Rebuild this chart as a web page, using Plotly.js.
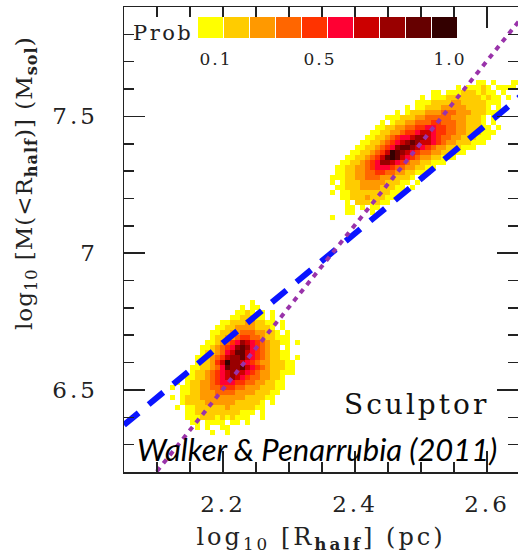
<!DOCTYPE html>
<html>
<head>
<meta charset="utf-8">
<script src="https://cdn.plot.ly/plotly-3.0.1.min.js"></script>
<style>
  html, body { margin: 0; padding: 0; background: #fff; overflow: hidden; }
  #chart { width: 518px; height: 555px; }
  /* wide-set serif lettering */
  .xtick text { letter-spacing: 3px; }
  .ytick text { letter-spacing: 3px; }
  .x2tick text { letter-spacing: 2px; }
  .g-xtitle text { letter-spacing: 3px; }
  .annotation[data-index="0"] text { letter-spacing: 2.5px; }
  .annotation[data-index="1"] text { letter-spacing: 1px; }
  .annotation[data-index="2"] text { letter-spacing: 3px; }
</style>
</head>
<body>
<div id="chart"></div>
<script>
// Probability levels of the 2D posterior histogram and their colours
const probLevels = [0.1, 0.2, 0.3, 0.4, 0.5, 0.6, 0.7, 0.8, 0.9, 1.0];
const probColors = ['#ffff00', '#ffcc00', '#ff9900', '#ff6600', '#ff3300',
                    '#ff0033', '#cc0000', '#990000', '#660000', '#330000'];
const probTickVals = [0.1, 0.5, 1.0];
const probTickText = ['0.1', '0.5', '1.0'];

// Histogram bins (log10 R_half, log10 M) : rows listed from top to bottom,
// each row = [first column, levels] with '1'..'9' = 0.1..0.9, 'X' = 1.0, '.' = empty
const sculptorMetalPoorRows = [
  [16, "1"],
  [14, "1.11"],
  [13, "1121.1.1"],
  [12, "1122211.1"],
  [10, "11222332211.1"],
  [9, "112233332221.1"],
  [8, "11223344433221.1"],
  [8, "1223345544322111"],
  [7, "11234568765432211.1"],
  [6, "1123456898654322.1"],
  [6, "122346799765432211"],
  [5, "1123457889765432211.1"],
  [5, "122357X8876543322211"],
  [4, "112234698897654322211"],
  [4, "122345678776543322111"],
  [3, "11223456787654433221"],
  [1, "1.12233456665544332211"],
  [0, "1.112233445554433322211"],
  [2, "11223334444333322211"],
  [0, "1.1222333333333222211"],
  [2, "12222333333222221.1"],
  [1, "1.1122222232222211"],
  [3, "11222222222111.1"],
  [3, "1112221212111..1"],
  [4, "11.1111.11.1"],
  [5, "1.1..11"],
  [8, "1..1"]
];
const sculptorMetalRichRows = [
  [29, "11.1...11"],
  [25, "1.11121.1111"],
  [20, "11.1112221211.1"],
  [18, "1.11122222221211.1"],
  [17, "11122223322222111"],
  [15, "1.112223333322221.1"],
  [13, "1.1222333444333222111"],
  [11, "11122233444443332221.1"],
  [10, "1.1223344455444332221.1"],
  [9, "11223344556655443322211.1"],
  [8, "1122334556776554433222111"],
  [7, "1122345667887654433222111"],
  [6, "1122345678987765433222111"],
  [5, "112234568998765433222111"],
  [4, "11223457X98765443322211"],
  [3, "112234579X976543322111"],
  [2, "112234568876543322111"],
  [1, "11223345666544332211"],
  [1, "1122334455443322111"],
  [0, "11122334443332221.1"],
  [0, "1.12223333322211.1"],
  [0, ".11222333322211.1"],
  [0, "1.1122222222111"],
  [2, "112223222111"],
  [3, "1.2221211"],
  [3, "11.1.11"],
  [0, "...11...1"],
  [0, "1..."]
];

// Reference scaling relations: log10 M = a + b log10 R
const dashedLineX = [2.05, 2.65];
const dashedLineY = [6.372, 7.572];
const dottedLineX = [2.08, 2.65];
const dottedLineY = [6.143, 7.853];

// Bin geometry
const BIN_DX = 0.0076;
const BIN_DY = 0.0183;
const poorLeftEdge = 2.1197, poorTopEdge = 6.8287;
const richLeftEdge = 2.3621, richTopEdge = 7.633;

function buildGrid(rows) {
  const ncols = Math.max(...rows.map(r => r[0] + r[1].length));
  const z = rows.map(([start, s]) => {
    const row = new Array(ncols).fill(null);
    for (let i = 0; i < s.length; i++) {
      const ch = s[i];
      if (ch === '.') continue;
      row[start + i] = ch === 'X' ? 1.0 : Number(ch) / 10;
    }
    return row;
  });
  return z.reverse(); // first row of z is the lowest bin
}

const colorscale = [];
probColors.forEach((c, k) => {
  colorscale.push([k / probColors.length, c]);
  colorscale.push([(k + 1) / probColors.length, c]);
});

function histTrace(rows, leftEdge, topEdge) {
  const z = buildGrid(rows);
  return {
    type: 'heatmap', z: z,
    x0: leftEdge + BIN_DX / 2, dx: BIN_DX,
    y0: topEdge - rows.length * BIN_DY + BIN_DY / 2, dy: BIN_DY,
    colorscale: colorscale, zmin: 0.05, zmax: 1.05,
    showscale: false, hoverinfo: 'skip', zsmooth: false
  };
}

const serif = 'DejaVu Serif, serif';
const ink = '#222';

const traces = [
  histTrace(sculptorMetalPoorRows, poorLeftEdge, poorTopEdge),
  histTrace(sculptorMetalRichRows, richLeftEdge, richTopEdge),
  {
    type: 'scatter', mode: 'lines', x: dashedLineX, y: dashedLineY,
    line: { color: '#0a14ff', width: 6, dash: '19px,13px' }, hoverinfo: 'skip'
  },
  {
    type: 'scatter', mode: 'lines', x: dottedLineX, y: dottedLineY,
    line: { color: '#9933aa', width: 4, dash: '5px,5.4px' }, hoverinfo: 'skip'
  },
  // probability key
  {
    type: 'heatmap', x: probLevels, y: [0], z: [probLevels],
    xaxis: 'x2', yaxis: 'y2', xgap: 1,
    colorscale: colorscale, zmin: 0.05, zmax: 1.05,
    showscale: false, hoverinfo: 'skip'
  }
];

const layout = {
  width: 518, height: 555,
  margin: { l: 124, r: 0, t: 7, b: 83 },
  paper_bgcolor: '#fff', plot_bgcolor: '#fff',
  showlegend: false,
  xaxis: {
    range: [2.05, 2.647], tick0: 2.2, dtick: 0.2,
    ticks: 'inside', ticklen: 21, tickwidth: 1.5, tickcolor: ink,
    minor: { dtick: 0.05, tick0: 2.0, ticks: 'inside', ticklen: 10, tickwidth: 1.5, tickcolor: ink },
    mirror: 'ticks', showline: true, linecolor: ink, linewidth: 1.5,
    showgrid: false, zeroline: false,
    tickfont: { family: serif, size: 23, color: ink },
    ticklabelstandoff: 11,
    title: { text: 'log<sub>10</sub> [R<sub><b>half</b></sub>] (pc)', font: { family: serif, size: 24, color: ink }, standoff: 12 }
  },
  yaxis: {
    range: [6.2, 7.9], tick0: 6.5, dtick: 0.5,
    ticks: 'inside', ticklen: 21, tickwidth: 1.5, tickcolor: ink,
    minor: { dtick: 0.1, tick0: 6.2, ticks: 'inside', ticklen: 10, tickwidth: 1.5, tickcolor: ink },
    mirror: 'ticks', showline: true, linecolor: ink, linewidth: 1.5,
    showgrid: false, zeroline: false,
    tickfont: { family: serif, size: 23, color: ink },
    ticklabelstandoff: 20
  },
  xaxis2: {
    domain: [0.1878, 0.8477], anchor: 'y2', range: [0.05, 1.05],
    showline: false, showgrid: false, zeroline: false, ticks: '',
    tickvals: probTickVals, ticktext: probTickText,
    tickfont: { family: serif, size: 17, color: ink }, ticklabelstandoff: 9,
    ticklabelshift: 5
  },
  yaxis2: {
    domain: [0.9333, 0.9785], anchor: 'x2', range: [-0.5, 0.5], visible: false
  },
  annotations: [
    { text: 'Prob', xref: 'paper', yref: 'paper', x: 0.099, y: 0.944,
      xanchor: 'center', yanchor: 'middle', showarrow: false,
      font: { family: serif, size: 21, color: ink } },
    { text: 'log<sub>10</sub> [M(&lt;R<sub><b>half</b></sub>)] (M<sub><b>sol</b></sub>)',
      xref: 'paper', yref: 'paper', x: -0.2487, y: 0.6215, textangle: -90,
      xanchor: 'center', yanchor: 'middle', showarrow: false,
      font: { family: serif, size: 23, color: ink } },
    { text: 'Sculptor', xref: 'paper', yref: 'paper', x: 0.7437, y: 0.1441,
      xanchor: 'center', yanchor: 'middle', showarrow: false,
      font: { family: serif, size: 28, color: '#111' } },
    { text: 'Walker &amp; Penarrubia (2011)', xref: 'paper', yref: 'paper', x: 0.4911, y: 0.0495,
      xanchor: 'center', yanchor: 'middle', showarrow: false,
      font: { family: 'Lato, Open Sans, sans-serif', size: 31, style: 'italic', color: '#000' } }
  ]
};

Plotly.newPlot('chart', traces, layout, { staticPlot: true, displayModeBar: false });
</script>
</body>
</html>
